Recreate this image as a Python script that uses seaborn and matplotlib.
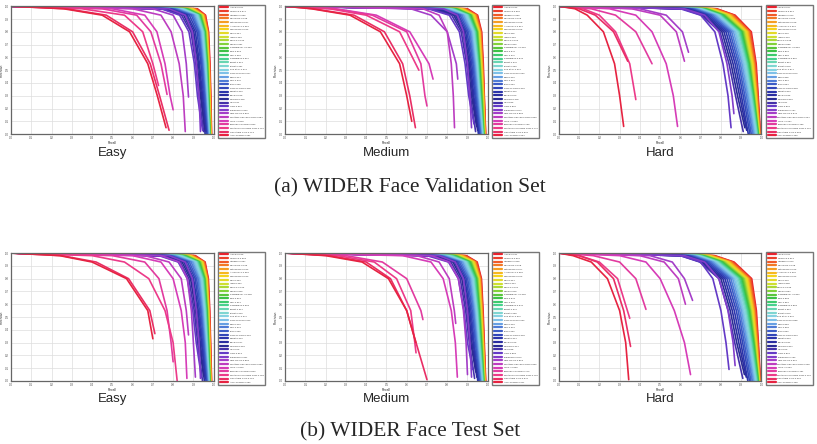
import matplotlib
matplotlib.use("Agg")
import matplotlib.pyplot as plt
import pandas as pd
import seaborn as sns

# the last value of a row is paired with the curve's end precision instead
LEVELS = [1.0, 0.98, 0.93, 0.80, 0.55, 0.30, 0.0]

METHODS = [
    "ASFD", "TinaFace", "HAMBox", "MaskFace", "RetinaFace", "AInnoFace",
    "RefineFace", "DFS", "ISRN", "VIM-FD", "DSFD", "PyramidBox++",
    "SRN", "CSP", "PyramidBox", "FDNet", "FANet", "Zhu et al.",
    "Face R-FCN", "SFD", "SSH", "FAN", "Face R-CNN", "SFDet",
    "EXTD", "MSCNN", "HR", "LFFD", "ScaleFace", "CMS-RCNN",
    "Multitask Cascade CNN", "LDCF+", "Faceness-WIDER",
    "Multiscale Cascade CNN", "Two-stage CNN", "ACF-WIDER",
]

AP_VAL_EASY = [.971, .970, .969, .968, .967, .966, .965, .964, .963, .962, .961, .960,
               .958, .956, .955, .953, .951, .949, .947, .944, .941, .938, .935, .932,
               .929, .925, .921, .915, .903, .891, .864, .848, .825, .790, .713, .691]
AP_VAL_MEDIUM = [.962, .961, .960, .959, .958, .957, .956, .955, .953, .952, .950, .949,
                 .947, .945, .943, .941, .939, .936, .933, .930, .927, .923, .919, .915,
                 .910, .905, .899, .891, .874, .859, .820, .803, .769, .747, .634, .604]
AP_VAL_HARD = [.917, .914, .912, .910, .908, .906, .904, .902, .900, .898, .896, .893,
               .890, .888, .885, .882, .878, .874, .870, .865, .860, .854, .848, .842,
               .836, .829, .821, .802, .797, .649, .624, .607, .496, .421, .359, .356]
AP_TEST_EASY = [.969, .968, .967, .966, .965, .964, .963, .962, .961, .960, .959, .958,
                .956, .954, .953, .951, .949, .947, .945, .942, .939, .936, .933, .930,
                .927, .923, .919, .913, .901, .889, .862, .846, .823, .788, .716, .695]
AP_TEST_MEDIUM = [.961, .960, .959, .958, .957, .956, .955, .954, .952, .951, .949, .948,
                  .946, .944, .942, .940, .938, .935, .932, .929, .926, .922, .918, .914,
                  .909, .904, .898, .889, .873, .858, .825, .809, .772, .750, .640, .611]
AP_TEST_HARD = [.914, .912, .910, .908, .906, .904, .902, .900, .898, .896, .894, .891,
                .888, .886, .883, .880, .876, .872, .868, .863, .858, .852, .846, .840,
                .834, .827, .819, .800, .795, .651, .628, .603, .491, .424, .362, .358]

REC_VAL_EASY = [
    [0, .920, .960, .975, .982, .986, .990], [0, .915, .958, .973, .980, .985, .989],
    [0, .910, .955, .972, .979, .984, .988], [0, .905, .953, .970, .978, .983, .987],
    [0, .900, .950, .969, .977, .982, .986], [0, .898, .948, .968, .976, .981, .986],
    [0, .895, .946, .966, .975, .980, .985], [0, .890, .944, .965, .974, .979, .984],
    [0, .885, .942, .963, .973, .978, .984], [0, .880, .940, .962, .972, .977, .983],
    [0, .875, .938, .960, .970, .976, .982], [0, .870, .935, .958, .969, .975, .982],
    [0, .865, .932, .956, .967, .974, .981], [0, .860, .930, .954, .966, .973, .980],
    [0, .855, .927, .952, .964, .972, .980], [0, .850, .924, .950, .962, .970, .979],
    [0, .845, .920, .947, .960, .968, .978], [0, .840, .916, .944, .957, .966, .976],
    [0, .830, .912, .940, .954, .964, .975], [0, .820, .905, .935, .950, .961, .973],
    [0, .810, .898, .930, .946, .958, .970], [0, .800, .890, .925, .942, .955, .968],
    [0, .790, .880, .918, .937, .950, .965], [0, .780, .870, .910, .930, .945, .962],
    [0, .770, .862, .902, .925, .940, .958], [0, .760, .852, .895, .918, .935, .955],
    [0, .750, .842, .888, .912, .928, .950], [0, .740, .832, .878, .905, .920, .945],
    [0, .780, .860, .895, .915, .928, .935], [0, .700, .800, .845, .865, .876],
    [0, .600, .740, .790, .830, .850, .860], [0, .500, .660, .720, .760, .785, .800],
    [0, .450, .620, .690, .740, .770], [0, .350, .560, .650, .700, .728],
    [0, .275, .470, .600, .687, .733, .780], [0, .260, .450, .585, .675, .722, .765],
]
END_VAL_EASY = [0, 0, 0, 0, 0, 0, 0, 0, 0, 0, 0, 0, 0, 0, 0, 0, 0, 0,
                0, 0, 0, 0, 0, .02, 0, .04, .02, .03, .02, .29, .02, .19, .31, .38, .03, .05]

REC_VAL_MEDIUM = [
    [0, .900, .950, .970, .978, .983, .990], [0, .895, .947, .968, .976, .982, .989],
    [0, .890, .944, .966, .975, .981, .988], [0, .885, .941, .964, .973, .980, .987],
    [0, .880, .938, .962, .972, .979, .986], [0, .875, .935, .960, .970, .978, .985],
    [0, .870, .932, .958, .968, .977, .984], [0, .865, .929, .956, .967, .975, .983],
    [0, .860, .926, .954, .965, .974, .982], [0, .855, .923, .952, .963, .973, .982],
    [0, .850, .920, .950, .962, .972, .981], [0, .845, .917, .948, .960, .970, .980],
    [0, .840, .914, .945, .958, .968, .979], [0, .835, .910, .942, .956, .966, .978],
    [0, .830, .906, .939, .954, .964, .977], [0, .825, .902, .936, .951, .962, .976],
    [0, .818, .898, .932, .948, .960, .975], [0, .810, .893, .928, .945, .958, .973],
    [0, .800, .887, .923, .941, .955, .971], [0, .790, .880, .918, .937, .951, .968],
    [0, .780, .872, .912, .932, .947, .965], [0, .770, .864, .905, .927, .942, .962],
    [0, .760, .856, .898, .921, .937, .958], [0, .750, .848, .891, .915, .931, .954],
    [0, .740, .840, .884, .909, .926, .950], [0, .730, .832, .877, .903, .920, .945],
    [0, .720, .822, .869, .896, .914, .940], [0, .705, .810, .860, .888, .906, .932],
    [0, .780, .850, .880, .900, .912, .920], [0, .620, .720, .800, .845, .852],
    [0, .680, .760, .800, .820, .830, .836], [0, .250, .450, .615, .710, .730],
    [0, .240, .430, .600, .670, .690, .700], [0, .220, .400, .565, .660],
    [0, .140, .340, .490, .580, .615, .643], [0, .130, .320, .470, .565, .600, .625],
]
END_VAL_MEDIUM = [0, 0, 0, 0, 0, 0, 0, 0, 0, 0, 0, 0, 0, 0, 0, 0, 0, 0,
                  0, 0, 0, 0, 0, 0, .03, .06, .02, .08, .05, .43, .05, .43, .22, .50, .05, .10]

REC_VAL_HARD = [
    [0, .780, .870, .950, .974, .984, .995], [0, .775, .865, .946, .971, .982, .994],
    [0, .770, .860, .942, .968, .980, .993], [0, .765, .855, .938, .965, .978, .992],
    [0, .760, .850, .934, .962, .976, .991], [0, .755, .845, .930, .959, .974, .990],
    [0, .750, .840, .926, .956, .972, .989], [0, .745, .835, .922, .953, .970, .988],
    [0, .740, .830, .918, .950, .968, .987], [0, .735, .825, .914, .947, .966, .986],
    [0, .730, .820, .910, .944, .964, .985], [0, .725, .815, .906, .941, .962, .984],
    [0, .720, .810, .902, .938, .960, .983], [0, .715, .805, .898, .935, .958, .982],
    [0, .710, .800, .893, .931, .955, .980], [0, .705, .795, .888, .927, .952, .978],
    [0, .700, .790, .882, .922, .948, .975], [0, .695, .784, .876, .917, .944, .972],
    [0, .690, .778, .870, .911, .939, .968], [0, .680, .770, .862, .904, .933, .963],
    [0, .670, .760, .853, .896, .926, .957], [0, .660, .750, .844, .888, .918, .950],
    [0, .650, .740, .835, .879, .910, .943], [0, .640, .730, .825, .870, .901, .935],
    [0, .630, .720, .815, .860, .892, .927], [0, .620, .712, .805, .850, .882, .918],
    [0, .610, .704, .795, .840, .872, .910], [0, .600, .700, .770, .810, .835, .850],
    [0, .620, .720, .790, .830, .855, .864], [0, .400, .530, .610, .640],
    [0, .360, .500, .580, .620], [0, .250, .380, .460, .530, .565, .586],
    [0, .160, .280, .380, .460], [0, .120, .200, .280, .350, .380],
    [0, .100, .180, .270, .340], [0, .080, .140, .220, .275, .300, .320],
]
END_VAL_HARD = [0, 0, 0, 0, 0, 0, 0, 0, 0, 0, 0, 0, 0, 0, 0, 0, 0, 0,
                0, 0, 0, 0, 0, 0, .03, .05, .02, .05, .16, .64, .57, .06, .55, .27, .57, .06]

REC_TEST_EASY = [
    [0, .910, .958, .974, .981, .985, .990], [0, .905, .956, .972, .979, .984, .989],
    [0, .900, .953, .971, .978, .983, .988], [0, .895, .951, .969, .977, .982, .987],
    [0, .890, .948, .968, .976, .981, .986], [0, .887, .946, .966, .975, .980, .985],
    [0, .883, .944, .965, .974, .979, .985], [0, .879, .942, .963, .973, .978, .984],
    [0, .875, .940, .962, .972, .977, .983], [0, .870, .937, .960, .970, .976, .983],
    [0, .865, .934, .958, .969, .975, .982], [0, .860, .931, .956, .967, .974, .981],
    [0, .855, .928, .954, .966, .973, .980], [0, .850, .925, .952, .964, .972, .980],
    [0, .845, .922, .949, .962, .970, .979], [0, .840, .918, .946, .960, .968, .978],
    [0, .833, .914, .943, .957, .966, .977], [0, .826, .910, .939, .954, .964, .975],
    [0, .818, .904, .934, .950, .961, .973], [0, .810, .897, .929, .946, .958, .971],
    [0, .800, .889, .923, .941, .954, .968], [0, .790, .880, .916, .936, .950, .965],
    [0, .780, .871, .909, .930, .945, .962], [0, .770, .862, .901, .924, .940, .958],
    [0, .760, .853, .893, .918, .934, .954], [0, .750, .844, .886, .911, .928, .950],
    [0, .740, .835, .878, .904, .921, .945], [0, .730, .825, .870, .897, .914, .940],
    [0, .780, .860, .895, .915, .928, .935], [0, .740, .830, .870, .890, .900, .910],
    [0, .660, .780, .840, .865, .876], [0, .600, .740, .800, .840, .860, .868],
    [0, .500, .660, .730, .770, .790, .800], [0, .400, .560, .680, .760, .800, .820],
    [0, .250, .420, .580, .685, .710], [0, .240, .400, .570, .675, .700],
]
END_TEST_EASY = [0, 0, 0, 0, 0, 0, 0, 0, 0, 0, 0, 0, 0, 0, 0, 0, 0, 0,
                 0, 0, 0, 0, 0, .02, 0, .04, 0, .03, .02, .03, .36, .02, .15, 0, .37, .33]

REC_TEST_MEDIUM = [
    [0, .895, .948, .969, .977, .983, .990], [0, .890, .945, .967, .975, .981, .989],
    [0, .885, .942, .965, .974, .980, .988], [0, .880, .939, .963, .972, .979, .987],
    [0, .875, .936, .961, .971, .978, .986], [0, .870, .933, .959, .969, .977, .985],
    [0, .865, .930, .957, .967, .976, .984], [0, .860, .927, .955, .966, .974, .983],
    [0, .855, .924, .953, .964, .973, .982], [0, .850, .921, .951, .962, .972, .981],
    [0, .845, .918, .949, .961, .971, .981], [0, .840, .915, .946, .959, .969, .980],
    [0, .835, .911, .943, .957, .967, .979], [0, .830, .907, .940, .955, .965, .978],
    [0, .825, .903, .937, .952, .963, .977], [0, .818, .899, .933, .949, .961, .975],
    [0, .810, .894, .929, .946, .958, .973], [0, .802, .889, .925, .943, .956, .971],
    [0, .794, .883, .920, .939, .952, .969], [0, .785, .876, .914, .934, .948, .966],
    [0, .775, .868, .908, .929, .944, .963], [0, .765, .860, .901, .923, .939, .959],
    [0, .755, .852, .894, .917, .933, .955], [0, .745, .844, .887, .911, .928, .951],
    [0, .735, .836, .880, .905, .922, .946], [0, .725, .828, .872, .898, .916, .941],
    [0, .715, .818, .864, .891, .909, .935], [0, .700, .806, .855, .883, .900, .926],
    [0, .760, .840, .880, .900, .912, .920], [0, .720, .810, .855, .880, .893, .900],
    [0, .650, .760, .810, .835, .842], [0, .580, .720, .780, .820, .840, .850],
    [0, .300, .480, .600, .670, .680], [0, .260, .440, .550, .620, .640, .646],
    [0, .220, .400, .520, .600, .646, .700], [0, .200, .380, .510, .600, .645],
]
END_TEST_MEDIUM = [0, 0, 0, 0, 0, 0, 0, 0, 0, 0, 0, 0, 0, 0, 0, 0, 0, 0,
                   0, 0, 0, 0, 0, 0, .03, .07, .02, .09, .03, .05, .45, .03, .48, .22, .01, .30]

REC_TEST_HARD = [
    [0, .770, .865, .952, .975, .985, .995], [0, .765, .860, .948, .972, .983, .994],
    [0, .760, .855, .944, .969, .981, .993], [0, .755, .850, .940, .966, .979, .992],
    [0, .750, .845, .936, .963, .977, .991], [0, .745, .840, .932, .960, .975, .990],
    [0, .740, .835, .928, .957, .973, .989], [0, .735, .830, .924, .954, .971, .988],
    [0, .730, .825, .920, .951, .969, .987], [0, .725, .820, .916, .948, .967, .986],
    [0, .720, .815, .912, .945, .965, .985], [0, .715, .810, .907, .942, .963, .984],
    [0, .710, .805, .902, .938, .960, .983], [0, .705, .800, .897, .934, .957, .981],
    [0, .700, .794, .892, .930, .954, .979], [0, .695, .788, .886, .925, .950, .976],
    [0, .690, .782, .880, .920, .946, .973], [0, .684, .776, .873, .914, .941, .970],
    [0, .678, .770, .866, .908, .936, .966], [0, .670, .762, .858, .901, .930, .961],
    [0, .660, .752, .849, .893, .923, .955], [0, .650, .742, .840, .885, .915, .948],
    [0, .640, .732, .830, .876, .907, .941], [0, .630, .722, .820, .866, .898, .933],
    [0, .620, .712, .810, .856, .888, .925], [0, .610, .704, .800, .846, .878, .916],
    [0, .600, .696, .790, .836, .868, .908], [0, .600, .700, .760, .800, .825, .840],
    [0, .620, .720, .790, .835, .860, .870], [0, .450, .560, .620, .660],
    [0, .400, .520, .590, .625], [0, .300, .430, .500, .570, .620, .650],
    [0, .170, .300, .380, .430], [0, .100, .200, .290, .350],
    [0, .100, .190, .270, .320, .354], [0, .070, .160, .240, .300, .330, .345],
]
END_TEST_HARD = [0, 0, 0, 0, 0, 0, 0, 0, 0, 0, 0, 0, 0, 0, 0, 0, 0, 0,
                 0, 0, 0, 0, 0, 0, .03, .05, .02, .09, .12, .63, .60, .05, .56, .49, .27, .01]

DIFFICULTY = ["Easy", "Medium", "Hard"]
PANELS = [
    [(REC_VAL_EASY, END_VAL_EASY, AP_VAL_EASY),
     (REC_VAL_MEDIUM, END_VAL_MEDIUM, AP_VAL_MEDIUM),
     (REC_VAL_HARD, END_VAL_HARD, AP_VAL_HARD)],
    [(REC_TEST_EASY, END_TEST_EASY, AP_TEST_EASY),
     (REC_TEST_MEDIUM, END_TEST_MEDIUM, AP_TEST_MEDIUM),
     (REC_TEST_HARD, END_TEST_HARD, AP_TEST_HARD)],
]
CAPTIONS = ["(a) WIDER Face Validation Set", "(b) WIDER Face Test Set"]

sns.set_style("whitegrid")
plt.rcParams["font.family"] = ["Liberation Sans", "DejaVu Sans"]

# red -> orange -> yellow -> green -> cyan -> blue -> purple -> pink -> red,
# with the blue part stretched like in the original legends
palette = sns.blend_palette(
    ["#e8222e", "#f05a28", "#f59a22", "#f6d21c", "#d6e030", "#8fd43a",
     "#3cbf3c", "#3ccf80", "#7ad8c8", "#8ad0ea", "#5a8ee0", "#3450c0",
     "#2a2fa8", "#2a2a90", "#6a3ccc", "#a63ec8", "#d83cb6", "#ec3a8a",
     "#e62341"],
    len(METHODS))

fig = plt.figure(figsize=(8.17, 4.44), dpi=100)
col_left = [0.0135, 0.349, 0.684]
row_bottom = [0.698, 0.142]
ax_w, ax_h = 0.248, 0.288
label_y = [0.656, 0.102]
caption_y = [0.577, 0.027]
LEG_FS = 1.7
LEG_TARGET_PX = 133


def curve_frame(recalls, ends, aps):
    rows = []
    labels = []
    for i, (rec, end) in enumerate(zip(recalls, ends)):
        label = f"{METHODS[i]}-{aps[i]:.3f}"
        labels.append(label)
        prec = LEVELS[:len(rec) - 1] + [end]
        for r, p in zip(rec, prec):
            rows.append({"recall": r, "precision": p, "method": label})
    return pd.DataFrame(rows), labels


def place_legend(ax, spacing):
    sns.move_legend(ax, "upper left", bbox_to_anchor=(1.022, 1.01),
                    title=None, fontsize=LEG_FS, frameon=True, fancybox=False,
                    edgecolor="#555555", labelspacing=spacing, handlelength=3.4,
                    handletextpad=0.8, borderpad=0.7, borderaxespad=0,
                    labelcolor="#333333")
    leg = ax.get_legend()
    leg.get_frame().set_linewidth(1.0)
    for line in leg.get_lines():
        line.set_linewidth(1.6)
    return leg


for row in range(2):
    for col in range(3):
        recalls, ends, aps = PANELS[row][col]
        df, labels = curve_frame(recalls, ends, aps)
        ax = fig.add_axes([col_left[col], row_bottom[row], ax_w, ax_h])
        sns.lineplot(data=df, x="recall", y="precision", hue="method",
                     hue_order=labels, palette=palette, sort=False,
                     estimator=None, linewidth=1.2, ax=ax)
        ax.set_xlim(0, 1)
        ax.set_ylim(0, 1)
        ax.set_xticks([i / 10 for i in range(11)])
        ax.set_yticks([i / 10 for i in range(11)])
        ax.tick_params(labelsize=2.0, length=1, width=0.4, pad=0.6, colors="#444444")
        ax.grid(True, color="#dddddd", linewidth=0.5)
        for sp in ax.spines.values():
            sp.set_color("#666666")
            sp.set_linewidth(0.9)
        ax.set_xlabel("Recall", fontsize=2.3, labelpad=0.5)
        ax.set_ylabel("Precision", fontsize=2.3, labelpad=0.5)

        # fit the 36 legend rows to the height of the boxes in the paper
        spacing = 0.6
        for _ in range(4):
            leg = place_legend(ax, spacing)
            fig.canvas.draw()
            h = leg.get_window_extent().height
            spacing += 0.9 * (LEG_TARGET_PX - h) / (
                (len(labels) - 1) * LEG_FS * 100 / 72)

        fig.text(col_left[col] + ax_w / 2, label_y[row], DIFFICULTY[col],
                 ha="center", va="center", fontsize=9.5)
    fig.text(0.502, caption_y[row], CAPTIONS[row], ha="center", va="center",
             fontsize=15.5, family=["Liberation Serif", "DejaVu Serif"])

fig.savefig("out.png", dpi=100)
